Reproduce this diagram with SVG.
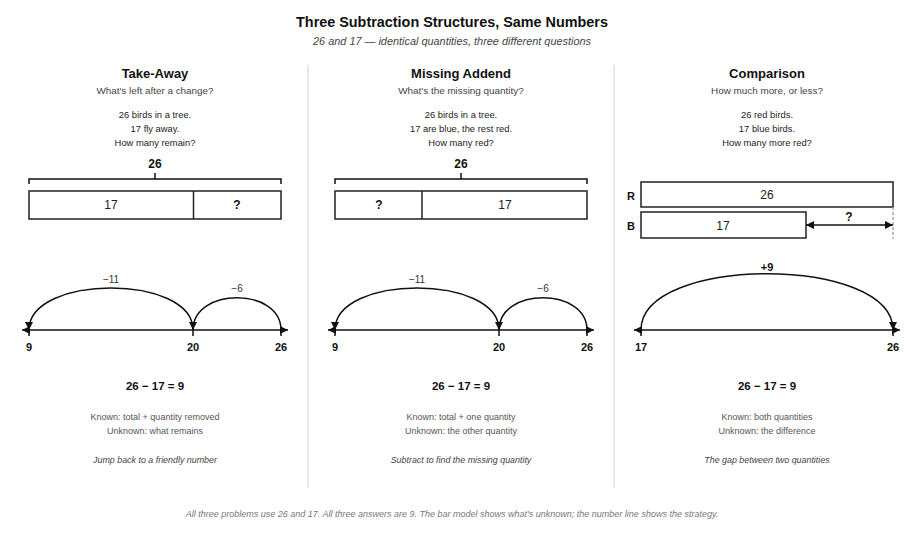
<svg xmlns="http://www.w3.org/2000/svg" width="904" height="544" viewBox="0 0 904 544">
<defs>
<marker id="ah" viewBox="0 0 8 8" refX="8" refY="4" markerWidth="8" markerHeight="8" markerUnits="userSpaceOnUse" orient="auto-start-reverse"><path d="M0,0 L8,4 L0,8 z" fill="#111"/></marker>
</defs>
<style>
text{font-family:"Liberation Sans",Arial,sans-serif;fill:#111}
.t{font-size:14.4px;font-weight:bold;text-anchor:middle}
.st{font-size:10.9px;font-style:italic;fill:#444;text-anchor:middle}
.h{font-size:13px;font-weight:bold;text-anchor:middle}
.q{font-size:9.9px;fill:#444;text-anchor:middle}
.p{font-size:9.4px;fill:#222;text-anchor:middle}
.b{font-size:12px;font-weight:bold;text-anchor:middle}
.bl{font-size:12px;text-anchor:middle;fill:#222}
.j{font-size:10px;fill:#333;text-anchor:middle}
.n{font-size:11px;font-weight:bold;text-anchor:middle}
.eq{font-size:11.5px;font-weight:bold;text-anchor:middle}
.k{font-size:9px;fill:#555;text-anchor:middle}
.s{font-size:8.9px;font-style:italic;fill:#444;text-anchor:middle}
.f{font-size:9px;font-style:italic;fill:#777;text-anchor:middle}
.bar{fill:#fff;stroke:#222;stroke-width:1.5}
.ln{stroke:#111;stroke-width:1.5;fill:none}
.div{stroke:#e0e0e0;stroke-width:1.5}
</style>
<rect width="904" height="544" fill="#fff"/>
<g id="header">
<text class="t" x="452" y="27">Three Subtraction Structures, Same Numbers</text>
<text class="st" x="452" y="45">26 and 17 — identical quantities, three different questions</text>
</g>
<g id="dividers">
<line class="div" x1="308" y1="65" x2="308" y2="488"/>
<line class="div" x1="614" y1="65" x2="614" y2="488"/>
</g>

<g id="take-away">
<text class="h" x="155" y="78">Take-Away</text>
<text class="q" x="155" y="94">What's left after a change?</text>
<text class="p" x="155" y="118">26 birds in a tree.</text>
<text class="p" x="155" y="132">17 fly away.</text>
<text class="p" x="155" y="146">How many remain?</text>
<text class="b" x="155" y="168">26</text>
<path class="ln" d="M29,184 V179 H281 V184 M155,179 V173" stroke-width="1.3"/>
<rect class="bar" x="29" y="191" width="252" height="28"/>
<line x1="193.5" y1="191" x2="193.5" y2="219" stroke="#222" stroke-width="1.5"/>
<text class="bl" x="111" y="209">17</text>
<text class="b" x="237" y="209">?</text>
<line class="ln" x1="22" y1="330" x2="288" y2="330" marker-start="url(#ah)" marker-end="url(#ah)"/>
<path class="ln" d="M29,330 V336 M193,324 V336 M281,330 V336"/>
<path class="ln" d="M193,330 C193,274 29,274 29,330" marker-end="url(#ah)"/>
<path class="ln" d="M281,330 C281,287 193,287 193,330" marker-end="url(#ah)"/>
<text class="j" x="111" y="283">−11</text>
<text class="j" x="237" y="292">−6</text>
<text class="n" x="29" y="351">9</text>
<text class="n" x="193" y="351">20</text>
<text class="n" x="281" y="351">26</text>
<text class="eq" x="155" y="390">26 − 17 = 9</text>
<text class="k" x="155" y="420">Known: total + quantity removed</text>
<text class="k" x="155" y="434">Unknown: what remains</text>
<text class="s" x="155" y="463">Jump back to a friendly number</text>
</g>

<g id="missing-addend">
<text class="h" x="461" y="78">Missing Addend</text>
<text class="q" x="461" y="94">What's the missing quantity?</text>
<text class="p" x="461" y="118">26 birds in a tree.</text>
<text class="p" x="461" y="132">17 are blue, the rest red.</text>
<text class="p" x="461" y="146">How many red?</text>
<text class="b" x="461" y="168">26</text>
<path class="ln" d="M335,184 V179 H587 V184 M461,179 V173" stroke-width="1.3"/>
<rect class="bar" x="335" y="191" width="252" height="28"/>
<line x1="422" y1="191" x2="422" y2="219" stroke="#222" stroke-width="1.5"/>
<text class="b" x="379" y="209">?</text>
<text class="bl" x="505" y="209">17</text>
<line class="ln" x1="328" y1="330" x2="594" y2="330" marker-start="url(#ah)" marker-end="url(#ah)"/>
<path class="ln" d="M335,330 V336 M499,324 V336 M587,330 V336"/>
<path class="ln" d="M499,330 C499,274 335,274 335,330" marker-end="url(#ah)"/>
<path class="ln" d="M587,330 C587,287 499,287 499,330" marker-end="url(#ah)"/>
<text class="j" x="417" y="283">−11</text>
<text class="j" x="543" y="292">−6</text>
<text class="n" x="335" y="351">9</text>
<text class="n" x="499" y="351">20</text>
<text class="n" x="587" y="351">26</text>
<text class="eq" x="461" y="390">26 − 17 = 9</text>
<text class="k" x="461" y="420">Known: total + one quantity</text>
<text class="k" x="461" y="434">Unknown: the other quantity</text>
<text class="s" x="461" y="463">Subtract to find the missing quantity</text>
</g>

<g id="comparison">
<text class="h" x="767" y="78">Comparison</text>
<text class="q" x="767" y="94">How much more, or less?</text>
<text class="p" x="767" y="118">26 red birds.</text>
<text class="p" x="767" y="132">17 blue birds.</text>
<text class="p" x="767" y="146">How many more red?</text>
<text class="n" x="631" y="200">R</text>
<text class="n" x="631" y="230">B</text>
<rect class="bar" x="641" y="182" width="252" height="25"/>
<text class="bl" x="767" y="199">26</text>
<rect class="bar" x="641" y="212" width="165" height="26"/>
<text class="bl" x="723" y="230">17</text>
<line x1="893" y1="207" x2="893" y2="239" stroke="#999" stroke-width="1.3" stroke-dasharray="3,2"/>
<line class="ln" x1="806" y1="225" x2="893" y2="225" marker-start="url(#ah)" marker-end="url(#ah)"/>
<text class="b" x="849" y="221">?</text>
<line class="ln" x1="634" y1="330" x2="900" y2="330" marker-start="url(#ah)" marker-end="url(#ah)"/>
<path class="ln" d="M641,330 V336 M893,330 V336"/>
<path class="ln" d="M641,330 C641,255 893,255 893,330" marker-end="url(#ah)"/>
<text class="n" x="767" y="271">+9</text>
<text class="n" x="641" y="351">17</text>
<text class="n" x="893" y="351">26</text>
<text class="eq" x="767" y="390">26 − 17 = 9</text>
<text class="k" x="767" y="420">Known: both quantities</text>
<text class="k" x="767" y="434">Unknown: the difference</text>
<text class="s" x="767" y="463">The gap between two quantities</text>
</g>

<g id="footer">
<text class="f" x="452" y="517">All three problems use 26 and 17. All three answers are 9. The bar model shows what's unknown; the number line shows the strategy.</text>
</g>
</svg>
